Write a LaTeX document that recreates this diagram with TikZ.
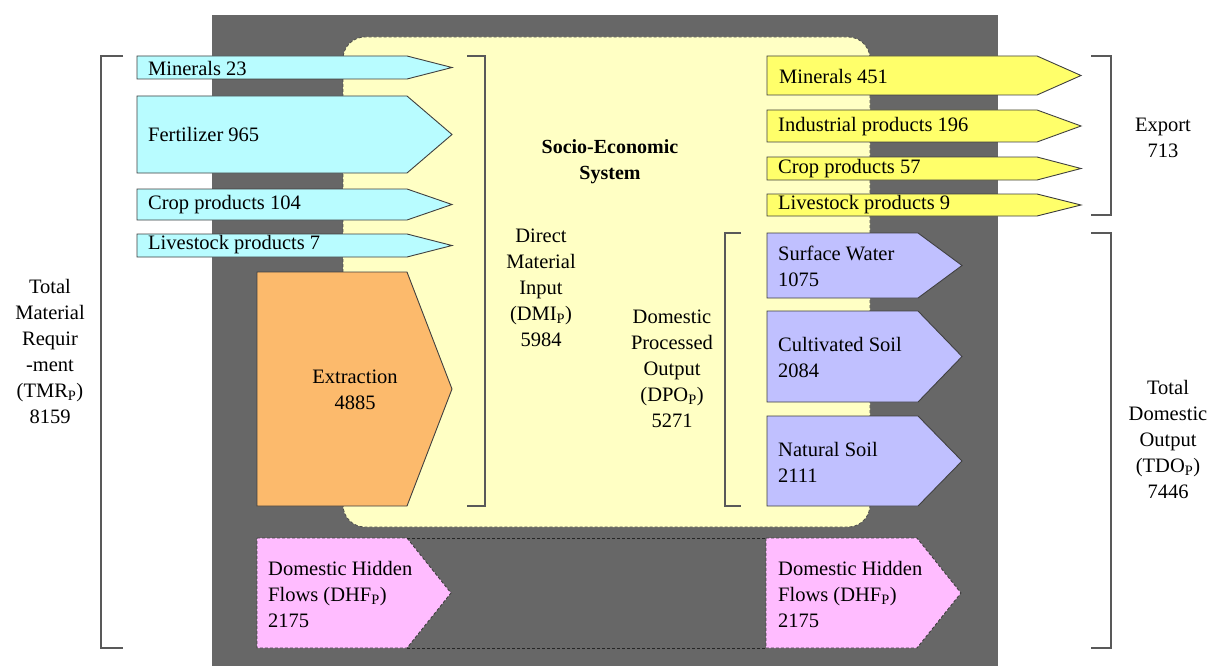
\documentclass[tikz,border=0pt]{standalone}
\usepackage{fontspec}
\setmainfont{Liberation Serif}
\definecolor{frame}{HTML}{676767}
\definecolor{socio}{HTML}{FFFFC4}
\definecolor{inflow}{HTML}{B8FCFF}
\definecolor{exflow}{HTML}{FFFF6A}
\definecolor{extract}{HTML}{FCBA6C}
\definecolor{outflow}{HTML}{C0C0FF}
\definecolor{hidden}{HTML}{FFBCFF}
\tikzset{
  flow/.style={draw=black!75, line width=0.9pt, line join=miter},
  hiddenflow/.style={flow, fill=hidden, dash pattern=on 3pt off 2pt},
  txt/.style={inner sep=0pt, font=\fontsize{20.5}{26}\selectfont, align=left, anchor=west},
  ctxt/.style={inner sep=0pt, font=\fontsize{20.5}{26}\selectfont, align=center},
  bracketline/.style={draw=black!65, line width=1.3pt},
}
% arrow-shaped box: style, left x, top y, taper start x, tip x, bottom y
\newcommand\flowbox[6]{%
  \path[#1] (#2,#3) -- (#4,#3) -- (#5,{(#3+#6)/2}) -- (#4,#6) -- (#2,#6) -- cycle;}
\begin{document}
\begin{tikzpicture}[x=1pt,y=-1pt]
\useasboundingbox (0,0) rectangle (1207,666);
\fill[white] (0,0) rectangle (1207,666);
% system boundary
\fill[frame] (212,15) rectangle (998,666);
\path[draw=black!70, line width=0.8pt, dash pattern=on 3pt off 2pt, fill=socio, rounded corners=22pt]
  (343,37) rectangle (870,527);
\node[ctxt, font=\fontsize{20}{26}\selectfont\bfseries] (ses) at (610,162) {Socio-Economic\\System};

% inputs
\flowbox{flow, fill=inflow}{137}{56}{407}{452}{79}
\node[txt] (min23) at (148,68) {Minerals 23};
\flowbox{flow, fill=inflow}{137}{96}{407}{452}{173}
\node[txt] (fert) at (148,134) {Fertilizer 965};
\flowbox{flow, fill=inflow}{137}{189}{407}{452}{220}
\node[txt] (crop104) at (148,205) {Crop products 104};
\flowbox{flow, fill=inflow}{137}{234}{407}{452}{257}
\node[txt] (live7) at (148,245) {Livestock products 7};
\flowbox{flow, fill=extract}{257}{272}{407}{452}{506}
\node[ctxt] (extr) at (355,390) {Extraction\\4885};

% exports
\flowbox{flow, fill=exflow}{767}{56}{1037}{1081}{95}
\node[txt] (min451) at (779,76) {Minerals 451};
\flowbox{flow, fill=exflow}{767}{110}{1037}{1081}{142}
\node[txt] (ind) at (778,127) {Industrial products 196};
\flowbox{flow, fill=exflow}{767}{157}{1037}{1081}{180}
\node[txt] (crop57) at (778,169) {Crop products 57};
\flowbox{flow, fill=exflow}{767}{194}{1037}{1081}{216}
\node[txt] (live9) at (778,205) {Livestock products 9};

% domestic outputs
\flowbox{flow, fill=outflow}{767}{233}{918}{962}{298}
\node[txt] (sw) at (778,266) {Surface Water\\1075};
\flowbox{flow, fill=outflow}{767}{311}{918}{962}{402}
\node[txt] (cs) at (778,357) {Cultivated Soil\\2084};
\flowbox{flow, fill=outflow}{767}{416}{918}{962}{506}
\node[txt] (ns) at (778,462) {Natural Soil\\2111};

% hidden flows
\flowbox{hiddenflow}{257}{538}{407}{451}{648}
\node[txt] (dhfL) at (268,594) {Domestic Hidden\\Flows (DHF\textsubscript{P})\\2175};
\flowbox{hiddenflow}{766}{538}{917}{961}{648}
\node[txt] (dhfR) at (778,594) {Domestic Hidden\\Flows (DHF\textsubscript{P})\\2175};
\coordinate (hlt) at (407,538);
\coordinate (hrt) at (766,538);
\coordinate (hlb) at (407,648);
\coordinate (hrb) at (766,648);
\draw[draw=black!85, line width=1pt, dash pattern=on 3pt off 2pt] (hlt) -- (hrt) (hlb) -- (hrb);

% brackets
\draw[bracketline] (123,56) -- (101,56) -- (101,648) -- (123,648);
\draw[bracketline] (467,56) -- (485,56) -- (485,506) -- (467,506);
\draw[bracketline] (741,233) -- (725,233) -- (725,506) -- (741,506);
\draw[bracketline] (1091,56) -- (1111,56) -- (1111,215) -- (1091,215);
\draw[bracketline] (1091,233) -- (1111,233) -- (1111,648) -- (1091,648);

% bracket labels
\node[ctxt] (tmr) at (50,351) {Total\\Material\\Requir\\-ment\\(TMR\textsubscript{P})\\8159};
\node[ctxt] (dmi) at (541,288) {Direct\\Material\\Input\\(DMI\textsubscript{P})\\5984};
\node[ctxt] (dpo) at (672,369) {Domestic\\Processed\\Output\\(DPO\textsubscript{P})\\5271};
\node[ctxt] (exp) at (1163,138) {Export\\713};
\node[ctxt] (tdo) at (1168,439) {Total\\Domestic\\Output\\(TDO\textsubscript{P})\\7446};
\end{tikzpicture}
\end{document}
